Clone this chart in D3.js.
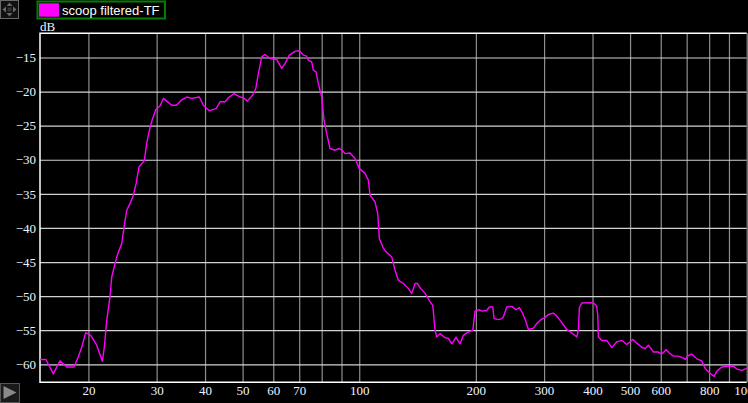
<!DOCTYPE html>
<html><head><meta charset="utf-8">
<script src="https://cdn.jsdelivr.net/npm/d3@7"></script>
<style>
html,body{margin:0;padding:0;background:#000;overflow:hidden}
svg{display:block}
</style></head><body>
<svg id="chart" width="748" height="403"></svg>
<script>
// ---- data ----
const seriesName = "scoop filtered-TF";
const freqHz = [15,15.54,16.23,16.89,17.58,18.36,18.84,19.22,19.68,20.28,21.01,21.73,21.98,22.3,22.74,22.97,23.43,23.81,24.38,24.72,25.12,25.62,26.12,26.55,27.02,27.89,28.28,28.73,29.19,29.89,30.61,31.22,31.85,32.81,33.8,34.82,35.87,36.96,38.66,39.59,41.03,42.7,43.73,45.05,45.94,47.53,49.25,50.23,51.43,53.11,54.07,54.91,56.03,57.14,58.86,61.25,63.09,64.34,66,68.28,70.04,71.73,73.19,73.89,75.39,76.11,77.34,78.41,80.01,81.11,82.43,84.06,86.6,88.84,90.66,91.91,94.68,97.54,100.07,103.52,105.57,106.64,109.86,111.64,112.7,115,117.28,121.32,123.72,126.17,129.98,133.9,136.63,139.34,141.26,144.14,147.87,152.6,154.79,156.92,158.52,161.66,166.54,169.84,173.31,175.69,177.8,179.6,182.07,185.67,189.47,196.34,199.04,204.19,207.12,213.37,216.69,221.12,222.84,228.6,233.27,235.5,240.31,247.56,253.96,258.99,264.28,269.52,273.22,281.47,287.22,294.13,301.74,307.72,317,322.13,329.88,343.27,353.63,364.3,367.78,369.97,375.29,394.26,402.07,409.8,412.73,414.21,422.67,435.41,448.55,462.07,476.02,490.39,508.17,520.4,536.11,546.74,557.56,566.58,574.39,591.7,603.79,619.41,631.69,646.89,666.4,686.51,694.71,707.2,721.64,743.41,765.83,781,804.56,823.92,837.23,862.49,888.51,924.05,942.93,971.38,1000];
const levelDb = [-59.3,-59.3,-61.4,-59.5,-60.4,-60.4,-58.9,-57.5,-55.35,-55.75,-57.2,-59.56,-57.5,-53.55,-50.1,-47.2,-45.2,-43.8,-42.3,-39.85,-37.4,-36.4,-35.2,-33.5,-31.05,-30.1,-27.6,-25.7,-24.2,-22.6,-22.1,-21.0,-21.4,-22.0,-22.0,-21.2,-20.8,-21.0,-20.8,-22.0,-22.8,-22.5,-21.5,-21.5,-20.9,-20.3,-20.8,-20.9,-21.4,-20.5,-19.55,-17.35,-14.9,-14.55,-15.15,-15.3,-16.6,-15.9,-14.65,-14.1,-14.0,-14.65,-14.8,-15.4,-15.65,-16.86,-17.1,-18.8,-20.8,-24.2,-26.15,-28.35,-28.6,-28.35,-28.7,-29.1,-29.0,-29.8,-31.3,-32.0,-33.0,-35.2,-36.2,-37.9,-41.55,-42.8,-43.5,-44.25,-46.2,-47.7,-48.15,-48.9,-49.6,-48.15,-48.15,-48.9,-49.6,-50.9,-51.35,-55.0,-56.0,-55.5,-56.1,-56.2,-57.0,-56.5,-56.0,-56.5,-57.0,-55.75,-55.4,-55.0,-52.2,-52.0,-52.2,-52.1,-51.6,-51.6,-53.3,-53.45,-53.3,-53.06,-51.6,-51.5,-52.0,-51.7,-52.55,-53.8,-54.9,-54.7,-54.0,-53.45,-53.15,-52.7,-52.5,-52.8,-53.55,-54.9,-55.4,-56.0,-55.0,-51.7,-51.0,-50.95,-51.0,-51.4,-52.8,-56.0,-56.5,-56.5,-57.55,-56.7,-56.5,-57.1,-56.35,-56.9,-57.5,-57.7,-57.2,-57.7,-58.2,-58.2,-58.5,-57.85,-58.35,-58.8,-58.8,-59.1,-59.3,-58.7,-58.5,-59.2,-59.5,-60.6,-61.3,-61.8,-61.0,-60.4,-60.3,-60.3,-60.7,-60.9,-60.6];
const xGridTicks = [20,30,40,50,60,70,80,90,100,200,300,400,500,600,700,800,900,1000];
const xLabelTicks = [20,30,40,50,60,70,100,200,300,400,500,600,800,1000];
const yTicks = [-15,-20,-25,-30,-35,-40,-45,-50,-55,-60];
const yUnit = "dB";

// ---- layout ----
const svg = d3.select("#chart");
const L = 40, R = 746.7, T = 33.3, B = 382.3;
const x = d3.scaleLog().domain([15, 1000]).range([L, R]);
const y = d3.scaleLinear().domain([-62.64, -11.45]).range([B, T]);

svg.append("rect").attr("width",748).attr("height",403).attr("fill","#000");

// vertical grid
const gx = svg.append("g").attr("transform",`translate(0,${B})`)
  .call(d3.axisBottom(x).tickValues(xGridTicks).tickSize(-(B-T)).tickFormat(""));
gx.select(".domain").remove();
gx.selectAll(".tick line").attr("stroke","#8e8e8e").attr("stroke-width",1.2);

// horizontal grid
const gy = svg.append("g").attr("transform",`translate(${L},0)`)
  .call(d3.axisLeft(y).tickValues(yTicks).tickSize(-(R-L)).tickFormat(""));
gy.select(".domain").remove();
gy.selectAll(".tick line").attr("stroke","#d2d2d2").attr("stroke-width",1.2);

// frame
svg.append("path")
  .attr("d",`M${R},${T}H${L}V${B}H${R}`)
  .attr("fill","none").attr("stroke","#ffffff").attr("stroke-width",1.5);

// x labels
const ax = svg.append("g").attr("transform",`translate(0,${B})`)
  .call(d3.axisBottom(x).tickValues(xLabelTicks).tickSize(0).tickPadding(0).tickFormat(d3.format("d")));
ax.select(".domain").remove();
ax.selectAll("text").attr("dy",null).attr("y",13)
  .attr("fill","#eef4ff").attr("font-family","'Liberation Serif','Times New Roman',serif").attr("font-size","13px");

// y labels
const ay = svg.append("g").attr("transform",`translate(${L},0)`)
  .call(d3.axisLeft(y).tickValues(yTicks).tickSize(0).tickPadding(4).tickFormat(d3.format("d")));
ay.select(".domain").remove();
ay.selectAll("text").attr("fill","#eef4ff").attr("font-family","'Liberation Serif','Times New Roman',serif").attr("font-size","13px");

svg.append("text").attr("x",40).attr("y",30.5).text(yUnit)
  .attr("fill","#eef4ff").attr("font-family","'Liberation Serif','Times New Roman',serif").attr("font-size","13px");

// curve
const pts = freqHz.map((f,i)=>[f, levelDb[i]]);
svg.append("defs").append("clipPath").attr("id","clip")
  .append("rect").attr("x",L).attr("y",T).attr("width",R-L+2).attr("height",B-T);
svg.append("path").datum(pts)
  .attr("clip-path","url(#clip)")
  .attr("fill","none").attr("stroke","#ff00ff").attr("stroke-width",1.4)
  .attr("stroke-linejoin","round")
  .attr("d", d3.line().x(d=>x(d[0])).y(d=>y(d[1])));

// legend
const lg = svg.append("g");
lg.append("rect").attr("x",37.5).attr("y",1.5).attr("width",127.5).attr("height",17)
  .attr("fill","#000").attr("stroke","#008000").attr("stroke-width",2);
lg.append("rect").attr("x",39).attr("y",3.3).attr("width",20).attr("height",13.4).attr("fill","#ff00ff");
lg.append("text").attr("x",62).attr("y",15).text(seriesName)
  .attr("fill","#ffffff").attr("font-family","'Liberation Sans',Arial,sans-serif").attr("font-size","13px");

// top-left navigation icon
const nav = svg.append("g");
nav.append("rect").attr("x",0.5).attr("y",0.5).attr("width",18).attr("height",18)
  .attr("fill","#111").attr("stroke","#6a6a6a");
const c = 9.5;
nav.append("path").attr("fill","#6a6a6a").attr("d",
  `M${c},2.5L${c+3},6L${c-3},6Z M${c},16.5L${c+3},13L${c-3},13Z M2.5,${c}L6,${c-3}L6,${c+3}Z M16.5,${c}L13,${c-3}L13,${c+3}Z`);
nav.append("rect").attr("x",c-2).attr("y",c-2).attr("width",4).attr("height",4).attr("fill","#333");

// bottom-left play button
const pb = svg.append("g");
pb.append("rect").attr("x",0.5).attr("y",383.5).attr("width",19).attr("height",19)
  .attr("fill","#1a1a1a").attr("stroke","#555");
pb.append("path").attr("d","M3.5,386L16.5,392.5L3.5,399Z").attr("fill","#8a8a8a");
</script>
</body></html>
